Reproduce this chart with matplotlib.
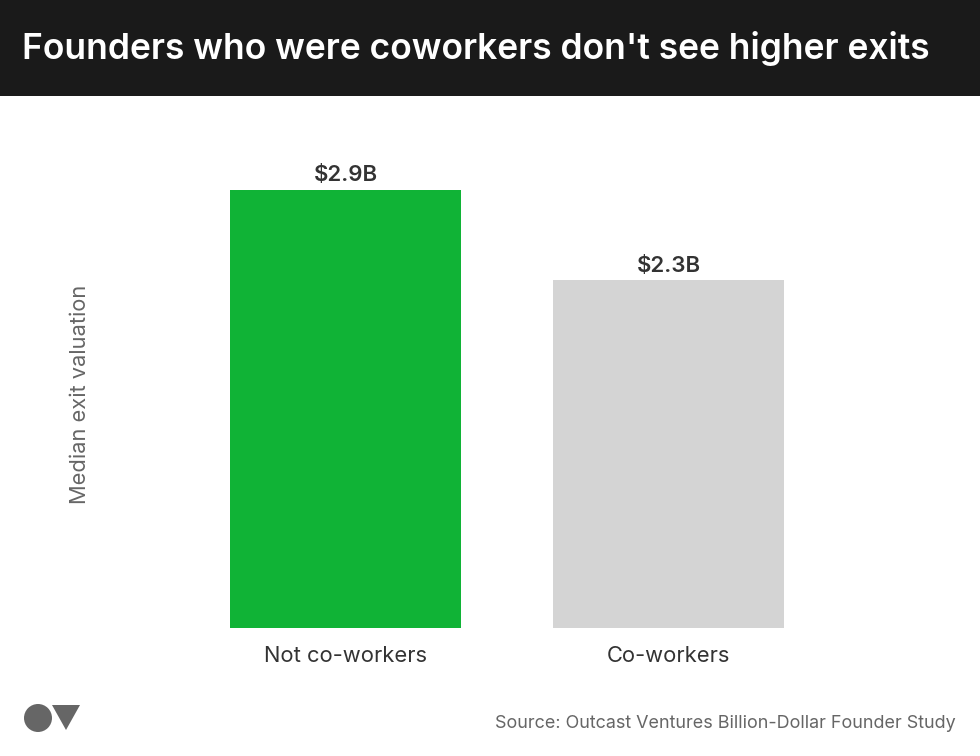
import matplotlib
matplotlib.use('Agg')
import matplotlib.pyplot as plt
from matplotlib.patches import Rectangle, Circle, Polygon

# Chart data
categories = ['Not co-workers', 'Co-workers']
values = [2.9, 2.3]
value_labels = ['$2.9B', '$2.3B']
bar_colors = ['#10b336', '#d4d4d4']

plt.rcParams['font.family'] = ['Inter', 'DejaVu Sans']

W, H = 980, 756
fig = plt.figure(figsize=(W / 100, H / 100), dpi=100, facecolor='white')

# Dark header band
fig.add_artist(Rectangle((0, 1 - 96 / H), 1, 96 / H, transform=fig.transFigure,
                         facecolor='#1a1a1a', edgecolor='none'))
fig.text(22 / W, 1 - 49 / H, "Founders who were coworkers don't see higher exits",
         color='white', fontsize=25.5, fontweight='semibold', va='center', ha='left')

# Bars, y axis scaled so 2.9 sits at pixel 189.5 and zero at 628
ax = fig.add_axes([184 / W, 1 - 628 / H, 646 / W, 480 / H])
positions = [0, 1]
ax.bar(positions, values, width=231 / 323, color=bar_colors)
ax.set_xlim(-0.5, 1.5)
ax.set_ylim(0, 2.9 * 480 / 438.5)
for p, v, lab in zip(positions, values, value_labels):
    ax.annotate(lab, (p, v), xytext=(0, 3), textcoords='offset points', ha='center', va='bottom',
                fontsize=16, fontweight='semibold', color='#333333')
ax.set_xticks(positions)
ax.set_xticklabels(categories, fontsize=15.8, color='#333333')
ax.tick_params(axis='x', length=0, pad=13)
ax.set_yticks([])
for s in ax.spines.values():
    s.set_visible(False)
ax.patch.set_alpha(0)

fig.text(80 / W, 1 - 394 / H, 'Median exit valuation', rotation=90, color='#666666',
         fontsize=15.75, ha='center', va='center')

fig.text(956 / W, 1 - 723 / H, 'Source: Outcast Ventures Billion-Dollar Founder Study',
         color='#666666', fontsize=12.92, ha='right', va='center')

# Logo, drawn in pixel coordinates
logo = fig.add_axes([0, 0, 1, 1], facecolor='none')
logo.set_xlim(0, W)
logo.set_ylim(H, 0)
logo.axis('off')
logo.add_patch(Circle((38, 718), 14, facecolor='#666666', edgecolor='none'))
logo.add_patch(Polygon([(52, 705), (80, 705), (66, 730)], facecolor='#666666', edgecolor='none'))

fig.savefig('out.png', dpi=100)
